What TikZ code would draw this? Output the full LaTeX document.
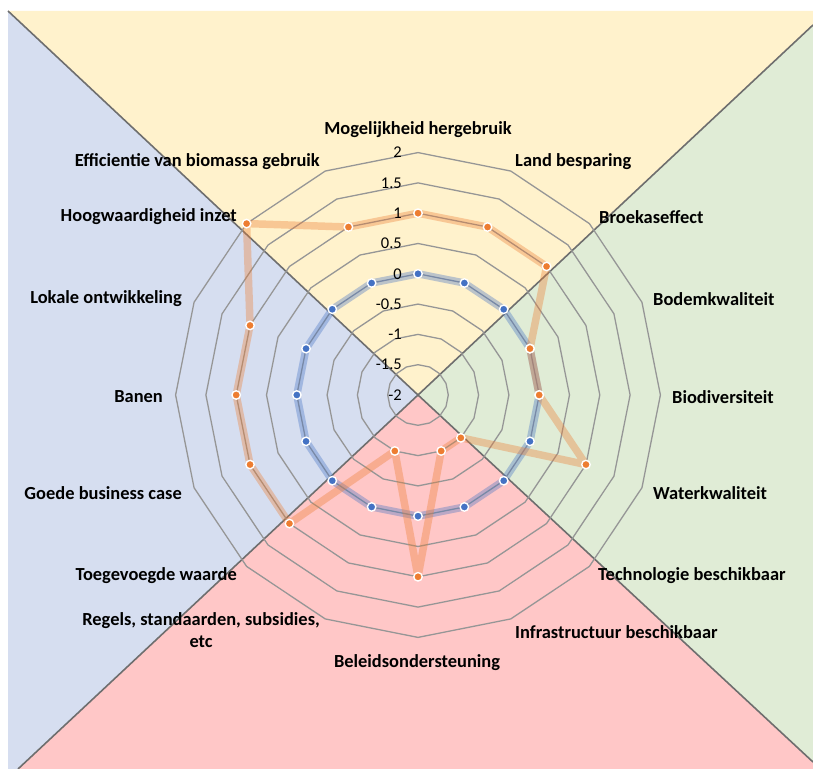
\documentclass[tikz,border=0pt]{standalone}
\usepackage{fontspec}
\setmainfont{Carlito}
\usepackage{tikz}
\usetikzlibrary{positioning}
\definecolor{bgyellow}{RGB}{255,242,204}
\definecolor{bgblue}{RGB}{214,222,240}
\definecolor{bggreen}{RGB}{224,236,214}
\definecolor{bgpink}{RGB}{255,199,199}
\definecolor{ringgray}{RGB}{150,150,150}
\definecolor{splitgray}{RGB}{110,110,110}
\definecolor{serorange}{RGB}{237,125,49}
\definecolor{serblue}{RGB}{68,114,196}
\tikzset{
  axislabel/.style={font=\fontsize{18.5}{22}\selectfont\bfseries, inner sep=0pt, align=center},
  ticklabel/.style={font=\fontsize{16.5}{18}\selectfont, inner sep=0pt, anchor=east},
  ring/.style={draw=ringgray, line width=1.3},
  split/.style={draw=splitgray, line width=1.6},
  band/.style={draw=#1, line width=7.5, opacity=0.36, line join=round},
  dot/.style={circle, fill=#1, draw=white, line width=1.4, minimum size=8.5, inner sep=0pt}
}
\begin{document}
\begin{tikzpicture}[x=1bp, y=1bp]
\useasboundingbox (0,0) rectangle (813,769);
\coordinate (c) at (418,374);
\fill [bgyellow] (8,758) -- (813,758) -- (813,744) -- (c) -- cycle;
\fill [bggreen] (813,744) -- (813,7) -- (c) -- cycle;
\fill [bgpink] (813,7) -- (813,0) -- (18,0) -- (c) -- cycle;
\fill [bgblue] (8,758) -- (c) -- (18,0) -- (8,0) -- cycle;
\draw [split] (8,758) -- (c) -- (813,7);
\draw [split] (813,744) -- (c) -- (18,0);

\begin{scope}[shift={(c)}]
\foreach \j in {1,...,8}
  \draw [ring] (90:{\j*30.3}) \foreach \k in {1,...,15}{ -- ({90-\k*22.5}:{\j*30.3})} -- cycle;
\foreach \k in {0,...,15}
  \coordinate (b\k) at ({90-\k*22.5}:121.2);
\foreach \v [count=\k from 0] in {1,1,1,0,0,1,-1,-1,1,-1,1,1,1,1,2,1}
  \coordinate (o\k) at ({90-\k*22.5}:{60.6*(\v+2)});
\draw [band=serblue] (b0) \foreach \k in {1,...,15}{ -- (b\k)} -- cycle;
\draw [band=serorange] (o0) \foreach \k in {1,...,15}{ -- (o\k)} -- cycle;
\foreach \k in {0,...,15}
  \node [dot=serblue] (bm\k) at (b\k) {};
\foreach \k in {0,...,15}
  \node [dot=serorange] (om\k) at (o\k) {};
\end{scope}

\foreach \t [count=\i from 0] in {-2,-1.5,-1,-0.5,0,0.5,1,1.5,2}
  \node [ticklabel] (tick\i) at (402,{374+\i*30.3}) {\t};

\node [axislabel] (hergebruik) at (418,639) {Mogelijkheid hergebruik};
\node [axislabel, anchor=west] (land) at (515,607) {Land besparing};
\node [axislabel, anchor=west] (broeikas) at (599,552) {Broekaseffect};
\node [axislabel, anchor=west] (bodem) at (653,470) {Bodemkwaliteit};
\node [axislabel, anchor=west] (biodiv) at (672,372) {Biodiversiteit};
\node [axislabel, anchor=west] (water) at (653,276) {Waterkwaliteit};
\node [axislabel, anchor=west] (techno) at (598,193) {Technologie beschikbaar};
\node [axislabel, anchor=west] (infra) at (515,137) {Infrastructuur beschikbaar};
\node [axislabel] (beleid) at (417,106) {Beleidsondersteuning};
\node [axislabel, anchor=east] (regels) at (320,139) {Regels, standaarden, subsidies,\\etc};
\node [axislabel, anchor=east] (waarde) at (237,193) {Toegevoegde waarde};
\node [axislabel, anchor=east] (business) at (182,276) {Goede business case};
\node [axislabel, anchor=east] (banen) at (163,372) {Banen};
\node [axislabel, anchor=east] (lokaal) at (182,470) {Lokale ontwikkeling};
\node [axislabel, anchor=east] (inzet) at (237,552) {Hoogwaardigheid inzet};
\node [axislabel, anchor=east] (efficientie) at (320,607) {Efficientie van biomassa gebruik};
\end{tikzpicture}
\end{document}
